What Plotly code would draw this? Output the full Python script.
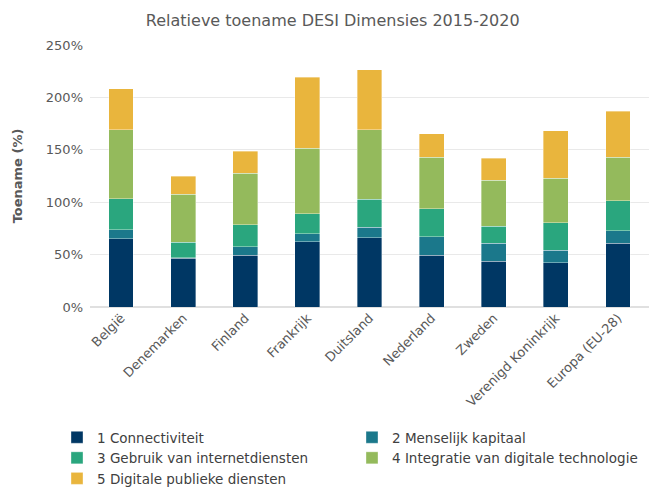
import plotly.graph_objects as go

categories = ["België", "Denemarken", "Finland", "Frankrijk", "Duitsland",
              "Nederland", "Zweden", "Verenigd Koninkrijk", "Europa (EU-28)"]
connectiviteit = [65.0, 46.3, 49.2, 62.5, 66.0, 49.2, 43.5, 42.2, 60.6]
menselijk_kapitaal = [8.9, 0.5, 8.2, 7.3, 10.1, 17.7, 17.1, 12.1, 12.1]
gebruik_internet = [29.5, 15.0, 21.3, 19.0, 26.7, 26.7, 16.5, 26.0, 28.8]
integratie_tech = [65.7, 46.0, 48.8, 62.5, 66.3, 49.5, 43.8, 42.5, 41.6]
publieke_diensten = [39.3, 17.1, 21.0, 67.9, 57.4, 22.2, 21.2, 45.3, 43.8]

series_names = ["1 Connectiviteit", "2 Menselijk kapitaal", "3 Gebruik van internetdiensten",
                "4 Integratie van digitale technologie", "5 Digitale publieke diensten"]
series_values = [connectiviteit, menselijk_kapitaal, gebruik_internet, integratie_tech, publieke_diensten]
colors = ["#003764", "#1b788b", "#2aa67e", "#94ba5c", "#e9b53d"]

FONT = "DejaVu Sans"
GREY = "#595959"

fig = go.Figure()
for name, vals, col in zip(series_names, series_values, colors):
    fig.add_trace(go.Bar(x=categories, y=vals, name=name,
                         marker=dict(color=col, line=dict(color="rgba(255,255,255,0.6)", width=0.6))))

plot_h = 490 - 45 - 183
fig.update_layout(
    width=655, height=490,
    barmode="stack", bargap=0.6,
    plot_bgcolor="white", paper_bgcolor="white",
    margin=dict(l=90, r=6, t=45, b=183, autoexpand=False),
    font=dict(family=FONT, color=GREY, size=12),
    title=dict(text="Relatieve toename DESI Dimensies 2015-2020", x=0.508, xref="container",
               xanchor="center", y=1 - 20 / 490, yanchor="middle", yref="container",
               font=dict(size=16, color=GREY, family=FONT)),
    legend=dict(orientation="h", xref="paper", yref="paper",
                x=(57 - 90) / 559, y=-(422 - 307) / plot_h, xanchor="left", yanchor="top",
                entrywidth=250, entrywidthmode="pixels", traceorder="normal",
                font=dict(size=13.5, color="#404040", family=FONT), tracegroupgap=0),
    yaxis=dict(range=[0, 250], dtick=50, ticksuffix="%", showgrid=True, gridcolor="#e9e9e9",
               zeroline=True, zerolinecolor="#e0e0e0", tickfont=dict(size=13, color=GREY),
               automargin=False, ticklabelstandoff=6,
               title=dict(text="<b>Toename (%)</b>", font=dict(size=13, color=GREY), standoff=20)),
    xaxis=dict(tickangle=-45, tickfont=dict(size=13, color=GREY), showline=False, automargin=False),
)

fig.write_html("out.html", config={"displayModeBar": False},
               post_script="document.body.style.margin='0';document.body.style.overflow='hidden';")
